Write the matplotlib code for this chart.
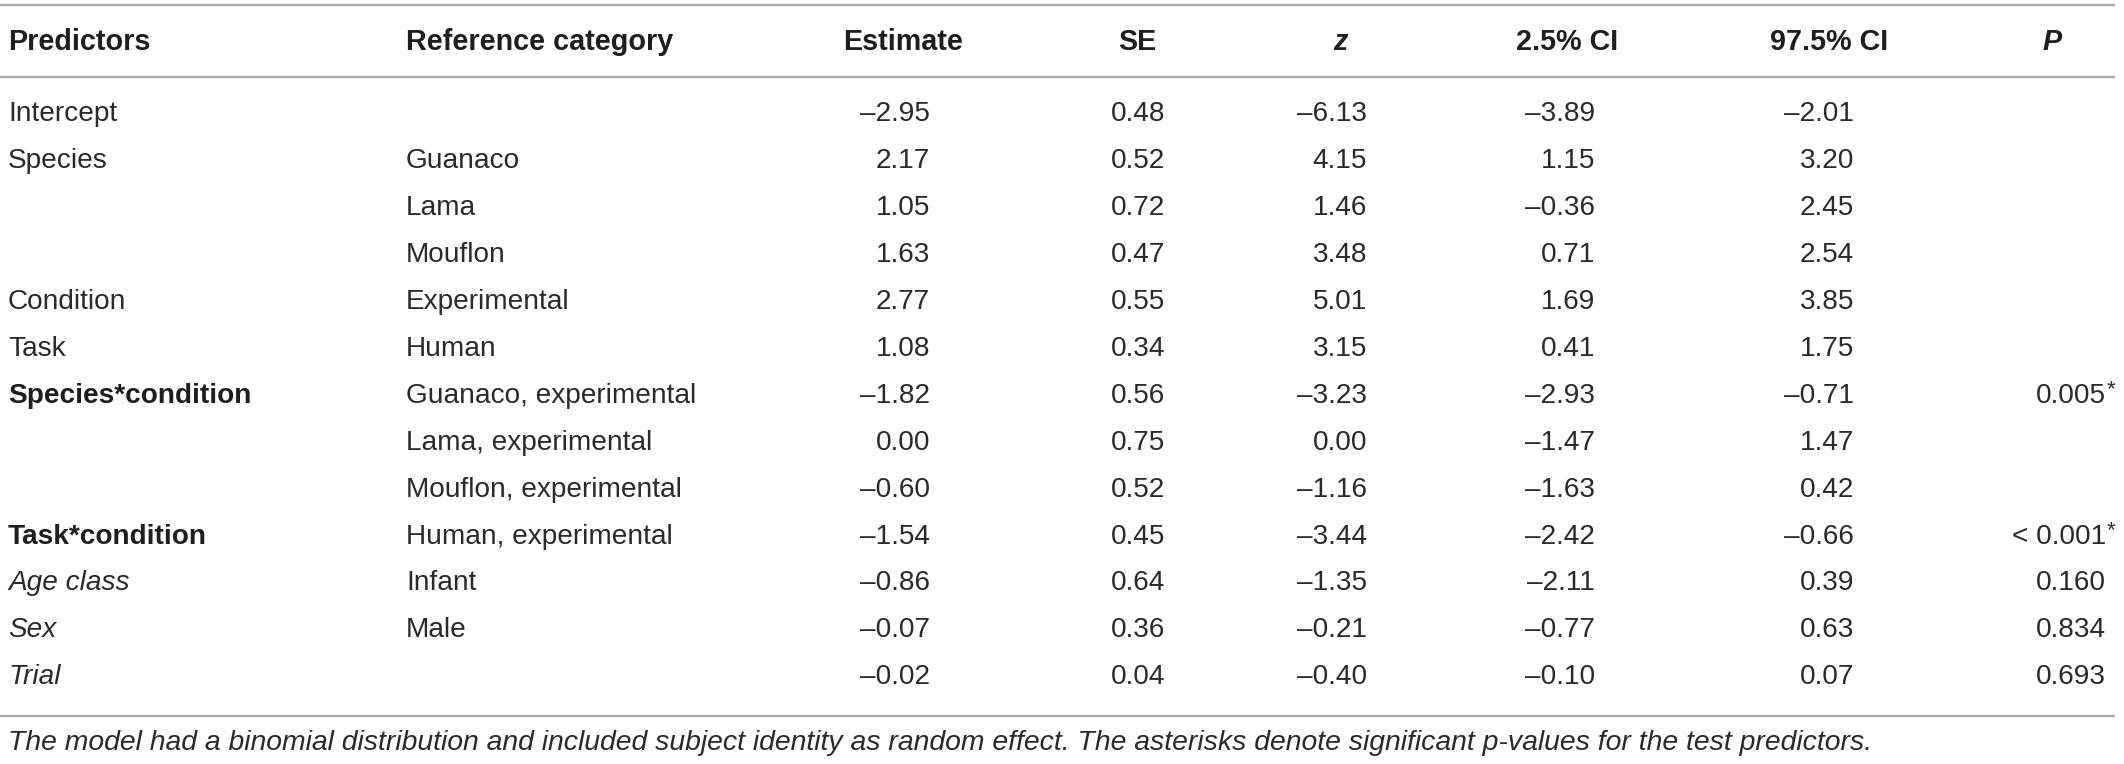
import matplotlib
matplotlib.use("Agg")
import matplotlib.pyplot as plt

# table content
predictors = ["Intercept", "Species", "", "", "Condition", "Task",
              "Species*condition", "", "", "Task*condition",
              "Age class", "Sex", "Trial"]
pred_style = ["normal"] * 6 + ["bold", "normal", "normal", "bold",
                               "italic", "italic", "italic"]
ref_category = ["", "Guanaco", "Lama", "Mouflon", "Experimental", "Human",
                "Guanaco, experimental", "Lama, experimental",
                "Mouflon, experimental", "Human, experimental",
                "Infant", "Male", ""]
estimate = [-2.95, 2.17, 1.05, 1.63, 2.77, 1.08, -1.82, 0.00, -0.60, -1.54, -0.86, -0.07, -0.02]
se = [0.48, 0.52, 0.72, 0.47, 0.55, 0.34, 0.56, 0.75, 0.52, 0.45, 0.64, 0.36, 0.04]
z = [-6.13, 4.15, 1.46, 3.48, 5.01, 3.15, -3.23, 0.00, -1.16, -3.44, -1.35, -0.21, -0.40]
ci_low = [-3.89, 1.15, -0.36, 0.71, 1.69, 0.41, -2.93, -1.47, -1.63, -2.42, -2.11, -0.77, -0.10]
ci_high = [-2.01, 3.20, 2.45, 2.54, 3.85, 1.75, -0.71, 1.47, 0.42, -0.66, 0.39, 0.63, 0.07]
p_value = ["", "", "", "", "", "", "0.005", "", "", "< 0.001", "0.160", "0.834", "0.693"]
p_star = [False] * 6 + [True, False, False, True, False, False, False]

headers = ["Predictors", "Reference category", "Estimate", "SE", "z",
           "2.5% CI", "97.5% CI", "P"]
footnote = ("The model had a binomial distribution and included subject identity "
            "as random effect. The asterisks denote significant p-values for the "
            "test predictors.")

W, H = 2124, 764
txt = "#2a2a2a"
head_c = "#1e1e1e"
line_c = "#a8a8a8"
plt.rcParams["font.family"] = ["Liberation Sans", "DejaVu Sans"]

fig = plt.figure(figsize=(W / 100, H / 100), dpi=100)
ax = fig.add_axes([0, 0, 1, 1])
ax.set_xlim(0, W)
ax.set_ylim(H, 0)
ax.axis("off")

fs = 20.2
hfs = 20.7

# column anchors
left_cols = [8, 406]
num_right = [930, 1165, 1367, 1595, 1854]
head_center = [903, 1137, 1340, 1567, 1829, 2052]
p_right = 2106

head_y = 42
row0 = 114
dy = 46.95

# rules
for yl in [5, 77, 716]:
    ax.plot([0, 2115], [yl, yl], color=line_c, lw=1.6, solid_capstyle="butt")

# header
ax.text(left_cols[0], head_y, headers[0], fontsize=hfs, fontweight="bold",
        color=head_c, ha="left", va="center")
ax.text(left_cols[1], head_y, headers[1], fontsize=hfs, fontweight="bold",
        color=head_c, ha="left", va="center")
for i, h in enumerate(headers[2:]):
    style = "italic" if h in ("z", "P") else "normal"
    ax.text(head_center[i], head_y, h, fontsize=hfs, fontweight="bold",
            fontstyle=style, color=head_c, ha="center", va="center")


def fmt(v):
    s = f"{abs(v):.2f}"
    return ("\u2013" + s) if v < 0 else s


cols = [estimate, se, z, ci_low, ci_high]
for r in range(len(predictors)):
    y = row0 + r * dy
    st = pred_style[r]
    ax.text(left_cols[0], y, predictors[r], fontsize=fs,
            color=head_c if st == "bold" else txt,
            fontweight="bold" if st == "bold" else "normal",
            fontstyle="italic" if st == "italic" else "normal",
            ha="left", va="center")
    ax.text(left_cols[1], y, ref_category[r], fontsize=fs, color=txt,
            ha="left", va="center")
    for c, vals in enumerate(cols):
        ax.text(num_right[c], y, fmt(vals[r]), fontsize=fs, color=txt,
                ha="right", va="center")
    if p_value[r]:
        ax.text(p_right, y, p_value[r], fontsize=fs, color=txt,
                ha="right", va="center")
        if p_star[r]:
            ax.text(p_right + 1, y - 6, "*", fontsize=fs * 0.8, color=txt,
                    ha="left", va="center")

ax.text(8, 743, footnote, fontsize=20.4, fontstyle="italic", color=txt,
        ha="left", va="center")

fig.savefig("out.png", dpi=100)
